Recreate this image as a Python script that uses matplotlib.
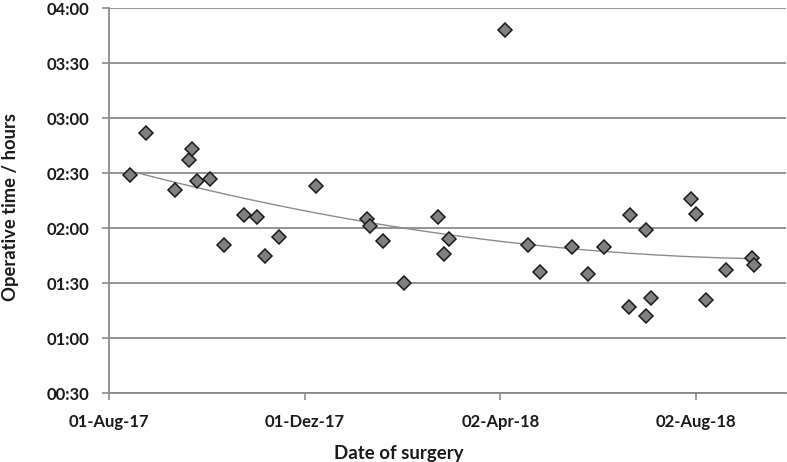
import numpy as np
import pandas as pd
import matplotlib
matplotlib.use("Agg")
import matplotlib.pyplot as plt
import matplotlib.dates as mdates
from matplotlib.ticker import FixedLocator

# ---- data ----
surgery_dates = [
    "2017-08-14", "2017-08-24", "2017-09-11", "2017-09-20", "2017-09-22",
    "2017-09-25", "2017-10-03", "2017-10-12", "2017-10-24", "2017-11-01",
    "2017-11-06", "2017-11-15", "2017-12-08", "2018-01-09", "2018-01-11",
    "2018-01-19", "2018-02-01", "2018-02-22", "2018-02-26", "2018-03-01",
    "2018-04-05", "2018-04-19", "2018-04-27", "2018-05-17", "2018-05-27",
    "2018-06-06", "2018-06-21", "2018-06-22", "2018-07-02", "2018-07-02",
    "2018-07-05", "2018-07-30", "2018-08-02", "2018-08-08", "2018-08-21",
    "2018-09-06", "2018-09-07",
]
operative_times = [
    "02:29", "02:52", "02:21", "02:37", "02:43",
    "02:26", "02:27", "01:51", "02:07", "02:06",
    "01:45", "01:55", "02:23", "02:05", "02:01",
    "01:53", "01:30", "02:06", "01:46", "01:54",
    "03:48", "01:51", "01:36", "01:50", "01:35",
    "01:50", "01:17", "02:07", "01:59", "01:12",
    "01:22", "02:16", "02:08", "01:21", "01:37",
    "01:44", "01:40",
]
x_tick_dates = ["2017-08-01", "2017-12-01", "2018-04-02", "2018-08-02"]
x_tick_labels = ["01-Aug-17", "01-Dez-17", "02-Apr-18", "02-Aug-18"]
y_tick_labels = ["00:30", "01:00", "01:30", "02:00", "02:30", "03:00", "03:30", "04:00"]

def to_hours(s):
    h, m = s.split(":")
    return int(h) + int(m) / 60.0

dates = pd.to_datetime(surgery_dates)
xnum = mdates.date2num(dates)
hours = np.array([to_hours(t) for t in operative_times])

# ---- figure ----
W, H = 787, 462
fig = plt.figure(figsize=(W/100, H/100), dpi=100)
ax = fig.add_axes([109/W, 1 - 393.3/H, (785.7-109)/W, (393.3-8.3)/H])

font = ["Lato", "DejaVu Sans"]
txt_color = "#1a1a1a"
grid_color = "#8a8a8a"

# trend line (2nd order polynomial fit)
coef = np.polyfit(xnum - xnum[0], hours, 2)
xs = np.linspace(xnum.min(), xnum.max(), 200)
ax.plot(xs, np.polyval(coef, xs - xnum[0]), color="#8c8c8c", lw=1.0, zorder=2)

ax.plot(xnum, hours, linestyle="none", marker="D", ms=7.2,
        markerfacecolor="#808080", markeredgecolor="#1a1a1a", markeredgewidth=1.1, zorder=3)

yticks = [to_hours(t) for t in y_tick_labels]
ax.set_ylim(yticks[0], yticks[-1])
ax.yaxis.set_major_locator(FixedLocator(yticks))
ax.set_yticklabels(y_tick_labels)
ax.yaxis.grid(True, color=grid_color, lw=1.3)
ax.set_axisbelow(True)

xt = mdates.date2num(pd.to_datetime(x_tick_dates))
ax.set_xlim(xt[0], xt[0] + 422)
ax.set_xticks(xt)
ax.set_xticklabels(x_tick_labels)

for s in ["top", "right"]:
    ax.spines[s].set_visible(False)
for s in ["left", "bottom"]:
    ax.spines[s].set_color(grid_color)
    ax.spines[s].set_linewidth(1.3)

ax.tick_params(axis="both", direction="out", length=5, width=1.2, color=grid_color,
               labelsize=12, labelcolor=txt_color)
ax.tick_params(axis="x", pad=10)
ax.tick_params(axis="y", pad=9)
for lab in ax.get_xticklabels() + ax.get_yticklabels():
    lab.set_fontfamily(font)
    lab.set_fontweight("bold")

fig.text(399/W, 1 - 454/H, "Date of surgery", fontsize=13.4, family=font,
         fontweight="bold", color=txt_color, ha="center", va="center")
fig.text(11/W, 1 - 207/H, "Operative time / hours", fontsize=13.2, family=font,
         fontweight="bold", color=txt_color, ha="center", va="center", rotation=90)

fig.savefig("out.png", dpi=100)
